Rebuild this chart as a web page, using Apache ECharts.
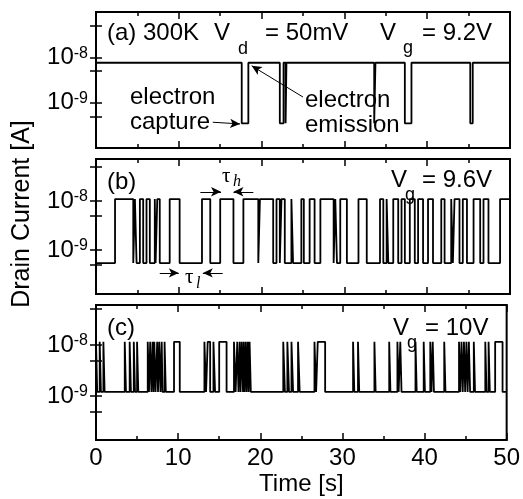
<!DOCTYPE html>
<html>
<head>
<meta charset="utf-8">
<script src="https://cdn.jsdelivr.net/npm/echarts@6/dist/echarts.min.js"></script>
<style>
html, body { margin: 0; padding: 0; background: #fff; }
#chart { width: 523px; height: 499px; }
</style>
</head>
<body>
<div id="chart"></div>
<script>
// time axis [s]
const timeTicks = [0, 10, 20, 30, 40, 50];

// (a) Vg = 9.2V : switching times [s], trace starts in the high state
const switchA = [17.6, 18.4, 22.2, 22.65, 22.9, 23.0, 33.6, 33.75, 37.3, 38.1, 45.2, 45.5];
const levelA = [7.6e-9, 3.5e-10]; // [high, low] drain current [A]

// (b) Vg = 9.6V : switching times [s], trace starts in the low state
const switchB = [2.3, 4.5, 4.7, 4.9, 5.3, 5.7, 6.1, 6.5, 7.1, 7.2, 7.4, 7.7, 8.9, 10.1, 12.8, 13.8,
  15.0, 16.6, 17.8, 19.6, 19.8, 21.4, 21.8, 22.2, 22.4, 22.8, 23.6, 23.8, 24.8, 25.1, 25.8, 26.4,
  27.1, 28.7, 28.9, 29.1, 29.5, 30.3, 31.7, 32.7, 34.3, 34.7, 35.1, 35.3, 35.9, 36.5, 36.9, 37.3,
  37.9, 38.5, 38.9, 39.5, 40.1, 40.7, 41.7, 42.1, 42.9, 43.1, 43.3, 43.9, 44.3, 44.8, 45.6, 46.4,
  46.8, 47.4, 48.8];
const levelB = [1.1e-8, 5.4e-10];

// (c) Vg = 10V : high pulses [start, end] in s, baseline is the low state
const pulsesC = [[0, 0.15], [0.45, 0.6], [0.9, 1.05], [3.5, 3.65], [4.1, 4.25], [4.6, 4.75], [5.0, 5.15],
  [6.3, 6.45], [6.6, 6.75], [6.9, 7.0], [7.1, 7.25], [7.45, 7.55], [7.7, 7.85], [8.0, 8.1], [8.35, 8.5],
  [9.5, 10.2], [13.2, 13.4], [13.6, 13.9], [14.3, 14.5], [15.0, 15.9], [16.8, 17.0], [17.2, 17.35],
  [17.5, 17.6], [17.75, 17.9], [18.0, 18.1], [18.25, 18.35], [18.5, 18.6], [18.7, 18.85],
  [22.8, 23.0], [23.3, 23.5], [23.8, 24.0], [24.6, 24.8], [26.6, 26.8], [27.0, 27.9], [31.3, 31.45],
  [31.9, 32.05], [33.9, 34.05], [35.7, 35.85], [36.7, 36.85], [37.05, 37.2], [38.9, 39.05],
  [39.9, 40.05], [40.7, 40.85], [41.0, 41.15], [42.4, 42.55], [44.2, 44.35], [44.5, 44.65],
  [44.8, 44.95], [45.1, 45.25], [45.4, 45.55], [46.0, 46.15], [47.4, 47.55], [47.8, 47.95], [48.6, 49.5]];
const levelC = [1.15e-8, 1.2e-9];

// y axis
const yTickValues = [5e-8, 1e-8, 5e-9, 1e-9, 5e-10];
const yLabelValues = [1e-8, 1e-9];
const yRanges = [[1e-10, 1e-7], [Math.pow(10, -9.9), Math.pow(10, -7.14)], [Math.pow(10, -9.86), Math.pow(10, -7.22)]];

const FONT = '"Liberation Sans", Arial, sans-serif';
const SERIF = '"Liberation Serif", "DejaVu Serif", serif';

function stepsFromSwitches(switches, level, startHigh) {
  let high = startHigh;
  const pts = [[0, high ? level[0] : level[1]]];
  switches.forEach(function (t) {
    high = !high;
    pts.push([t, high ? level[0] : level[1]]);
  });
  pts.push([50, high ? level[0] : level[1]]);
  return pts;
}

function stepsFromPulses(pulses, level) {
  const pts = [];
  if (pulses[0][0] > 0) pts.push([0, level[1]]);
  pulses.forEach(function (p) {
    pts.push([p[0], level[0]]);
    pts.push([p[1], level[1]]);
  });
  pts.push([50, level[1]]);
  return pts;
}

const chart = echarts.init(document.getElementById('chart'));

const grids = [
  { left: 96, right: 13, top: 12, height: 136 },
  { left: 96, right: 13, top: 159, height: 135 },
  { left: 96, right: 13, top: 305, height: 135 }
];

const xAxes = [];
const yAxes = [];
grids.forEach(function (g, i) {
  ['bottom', 'top'].forEach(function (pos) {
    xAxes.push({
      type: 'value', gridIndex: i, position: pos, min: 0, max: 50, interval: 10,
      axisLine: { show: true, lineStyle: { color: '#000', width: 2 } },
      axisTick: { show: true, inside: true, length: 7, lineStyle: { color: '#000', width: 1.5 } },
      minorTick: { show: true, splitNumber: 2, length: 4, lineStyle: { color: '#000', width: 1.5 } },
      splitLine: { show: false },
      axisLabel: {
        show: i === 2 && pos === 'bottom', margin: 6,
        fontSize: 24, fontFamily: FONT, color: '#000',
        customValues: timeTicks
      },
      name: (i === 2 && pos === 'bottom') ? 'Time [s]' : '',
      nameLocation: 'middle', nameGap: 32,
      nameTextStyle: { fontSize: 24, fontFamily: FONT, color: '#000' }
    });
  });
  ['left', 'right'].forEach(function (pos) {
    yAxes.push({
      type: 'log', logBase: 10, gridIndex: i, position: pos,
      min: yRanges[i][0], max: yRanges[i][1],
      axisLine: { show: true, lineStyle: { color: '#000', width: 2 } },
      axisTick: { show: true, inside: true, length: 6, customValues: yTickValues, lineStyle: { color: '#000', width: 1.5 } },
      splitLine: { show: false },
      axisLabel: {
        show: pos === 'left', margin: 8, customValues: yLabelValues,
        formatter: function (v) {
          const e = Math.round(Math.log10(v));
          return '{b|10}{s|' + e + '}';
        },
        rich: {
          b: { fontSize: 24, fontFamily: FONT, color: '#000' },
          s: { fontSize: 16, fontFamily: FONT, color: '#000', verticalAlign: 'top' }
        }
      }
    });
  });
});

const lineStyle = { color: '#000', width: 1.8 };
const arrowLine = { color: '#000', width: 1, type: 'solid' };

function arrows(list) {
  return {
    silent: true, symbol: ['none', 'arrow'], symbolSize: [7, 10],
    label: { show: false }, lineStyle: arrowLine, animation: false,
    data: list.map(function (a) { return [{ coord: a[0] }, { coord: a[1] }]; })
  };
}

const series = [
  {
    type: 'line', xAxisIndex: 0, yAxisIndex: 0, step: 'end', showSymbol: false,
    lineStyle: lineStyle, data: stepsFromSwitches(switchA, levelA, true),
    markLine: arrows([
      [[14.1, 3.7e-10], [17.4, 3.4e-10]],
      [[25.0, 1.33e-9], [18.8, 6.5e-9]]
    ])
  },
  {
    type: 'line', xAxisIndex: 2, yAxisIndex: 2, step: 'end', showSymbol: false,
    lineStyle: lineStyle, data: stepsFromSwitches(switchB, levelB, false),
    markLine: arrows([
      [[12.6, 1.55e-8], [15.1, 1.55e-8]],
      [[19.0, 1.55e-8], [16.6, 1.55e-8]],
      [[7.7, 3.4e-10], [10.0, 3.4e-10]],
      [[15.3, 3.4e-10], [12.9, 3.4e-10]]
    ])
  },
  {
    type: 'line', xAxisIndex: 4, yAxisIndex: 4, step: 'end', showSymbol: false,
    lineStyle: lineStyle, data: stepsFromPulses(pulsesC, levelC)
  }
];

function txt(x, y, text, size, extra) {
  return {
    type: 'text', x: x, y: y, z: 100,
    style: Object.assign({ text: text, fontSize: size, fontFamily: FONT, fill: '#000', verticalAlign: 'middle' }, extra || {})
  };
}

const graphic = [
  // y title
  Object.assign(txt(22, 214, 'Drain Current [A]', 25, { align: 'center' }), { rotation: Math.PI / 2 }),
  // panel (a)
  txt(107, 33, '(a) 300K', 24),
  txt(214, 33, 'V', 24), txt(238, 49, 'd', 18), txt(265, 33, '= 50mV', 24),
  txt(380, 33, 'V', 24), txt(403, 48, 'g', 18), txt(422, 33, '= 9.2V', 24),
  txt(130, 97, 'electron', 24), txt(130, 122, 'capture', 24),
  txt(305, 100, 'electron', 24), txt(305, 125, 'emission', 24),
  // panel (b)
  txt(107, 182, '(b)', 24),
  txt(391, 180, 'V', 24), txt(405, 195, 'g', 18), txt(422, 180, '= 9.6V', 24),
  txt(222, 176, '\u03c4', 21, { fontFamily: SERIF }),
  txt(233, 182, 'h', 16, { fontFamily: SERIF, fontStyle: 'italic' }),
  txt(185, 277, '\u03c4', 21, { fontFamily: SERIF }),
  txt(196, 284, 'l', 16, { fontFamily: SERIF, fontStyle: 'italic' }),
  // panel (c)
  txt(393, 328, 'V', 24), txt(407, 343, 'g', 18), txt(425, 328, '= 10V', 24),
  txt(107, 328, '(c)', 24)
];

chart.setOption({
  animation: false,
  backgroundColor: '#fff',
  grid: grids.map(function (g) { return Object.assign({ show: true, borderColor: '#000', borderWidth: 2 }, g); }),
  xAxis: xAxes,
  yAxis: yAxes,
  series: series,
  graphic: graphic
});
</script>
</body>
</html>
